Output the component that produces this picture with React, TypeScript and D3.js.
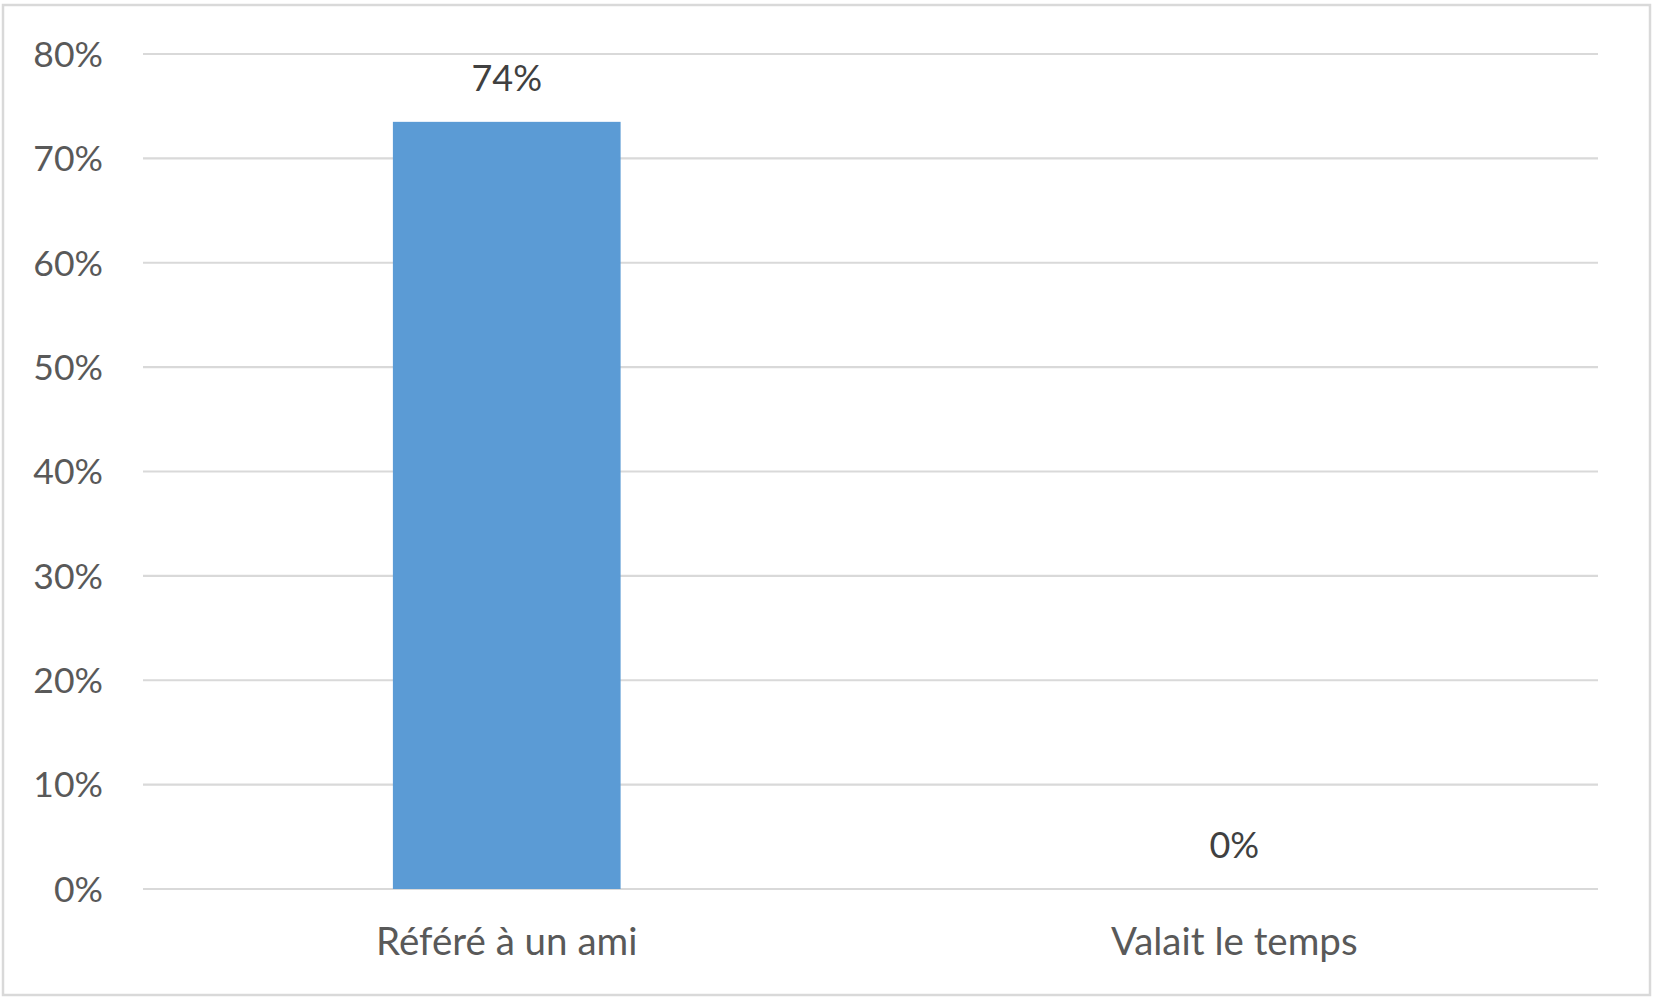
import React from "react";
import * as d3 from "d3";

const categories = ["Référé à un ami", "Valait le temps"];
const values = [0.735, 0];
const valueLabels = ["74%", "0%"];
const yTicks = [0, 0.1, 0.2, 0.3, 0.4, 0.5, 0.6, 0.7, 0.8];

const W = 1659;
const H = 1003;
const FONT = "Lato, 'Open Sans', sans-serif";
const TEXT = "#595959";
const GRID = "#d9d9d9";
const BAR = "#5b9bd5";

export default function App() {
  const x = d3
    .scaleBand<string>()
    .domain(categories)
    .range([143, 1598])
    .paddingInner(0.687)
    .paddingOuter(0.3435);
  const y = d3.scaleLinear().domain([0, 0.8]).range([889, 54]);
  const fmt = d3.format(".0%");

  return (
    <svg
      width={W}
      height={H}
      style={{ position: "absolute", left: 0, top: 0, background: "#fff" }}
    >
      <rect x={3} y={5} width={1647} height={990} fill="#fff" stroke={GRID} strokeWidth={2.5} />
      {yTicks.map((t) => (
        <g key={t}>
          <line x1={143} x2={1598} y1={y(t)} y2={y(t)} stroke={GRID} strokeWidth={2.2} />
          <text
            x={103}
            y={y(t)}
            dy="0.36em"
            textAnchor="end"
            fontFamily={FONT}
            fontSize={35.5}
            fill={TEXT}
          >
            {fmt(t)}
          </text>
        </g>
      ))}
      {categories.map((c, i) => (
        <g key={c}>
          {values[i] > 0 && (
            <rect
              x={x(c)}
              y={y(values[i])}
              width={x.bandwidth()}
              height={y(0) - y(values[i])}
              fill={BAR}
            />
          )}
          <text
            x={(x(c) as number) + x.bandwidth() / 2}
            y={y(values[i]) - 31}
            textAnchor="middle"
            fontFamily={FONT}
            fontSize={36}
            fill="#404040"
          >
            {valueLabels[i]}
          </text>
          <text
            x={(x(c) as number) + x.bandwidth() / 2}
            y={955}
            textAnchor="middle"
            fontFamily={FONT}
            fontSize={38.5}
            fill={TEXT}
          >
            {c}
          </text>
        </g>
      ))}
    </svg>
  );
}
